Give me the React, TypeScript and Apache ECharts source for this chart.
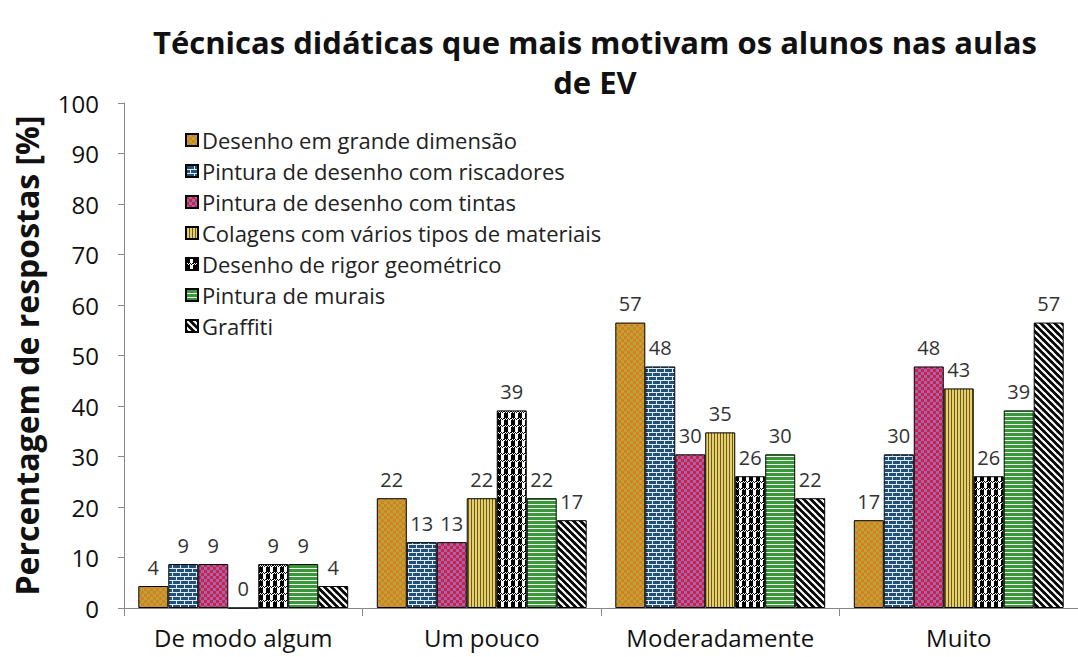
import React, { useEffect, useRef } from "react";
import * as echarts from "echarts";

const categories = ["De modo algum", "Um pouco", "Moderadamente", "Muito"];
const seriesNames = [
  "Desenho em grande dimensão",
  "Pintura de desenho com riscadores",
  "Pintura de desenho com tintas",
  "Colagens com vários tipos de materiais",
  "Desenho de rigor geométrico",
  "Pintura de murais",
  "Graffiti",
];
const desenhoGrande = [4.35, 21.74, 56.52, 17.39];
const pinturaRiscadores = [8.7, 13.04, 47.83, 30.43];
const pinturaTintas = [8.7, 13.04, 30.43, 47.83];
const colagens = [0, 21.74, 34.78, 43.48];
const rigorGeometrico = [8.7, 39.13, 26.09, 26.09];
const pinturaMurais = [8.7, 21.74, 30.43, 39.13];
const graffiti = [4.35, 17.39, 21.74, 56.52];
const yTicks = [0, 10, 20, 30, 40, 50, 60, 70, 80, 90, 100];

const seriesValues = [
  desenhoGrande,
  pinturaRiscadores,
  pinturaTintas,
  colagens,
  rigorGeometrico,
  pinturaMurais,
  graffiti,
];

function makePattern(w: number, h: number, draw: (ctx: CanvasRenderingContext2D) => void) {
  const c = document.createElement("canvas");
  c.width = w;
  c.height = h;
  const ctx = c.getContext("2d")!;
  draw(ctx);
  return { image: c.toDataURL(), repeat: "repeat", imageWidth: w, imageHeight: h } as any;
}

function buildPatterns() {
  const p1 = makePattern(6, 6, (ctx) => {
    ctx.fillStyle = "#A8AB3E";
    ctx.fillRect(0, 0, 6, 6);
    ctx.fillStyle = "#E9781C";
    ctx.fillRect(0, 0, 3, 3);
    ctx.fillRect(3, 3, 3, 3);
  });
  const p2 = makePattern(8, 8, (ctx) => {
    ctx.fillStyle = "#22507C";
    ctx.fillRect(0, 0, 8, 8);
    ctx.fillStyle = "#E4ECF2";
    ctx.fillRect(0, 0, 8, 1);
    ctx.fillRect(0, 4, 8, 1);
    ctx.fillRect(0, 1, 1, 3);
    ctx.fillRect(4, 5, 1, 3);
  });
  const p3 = makePattern(6, 6, (ctx) => {
    ctx.fillStyle = "#8E6FB6";
    ctx.fillRect(0, 0, 6, 6);
    ctx.fillStyle = "#E2163F";
    ctx.fillRect(0, 0, 3, 3);
    ctx.fillRect(3, 3, 3, 3);
  });
  const p4 = makePattern(3, 3, (ctx) => {
    ctx.fillStyle = "#E6D06C";
    ctx.fillRect(0, 0, 3, 3);
    ctx.fillStyle = "#6E5C1C";
    ctx.fillRect(0, 0, 1, 3);
  });
  const p5 = makePattern(7, 7, (ctx) => {
    ctx.fillStyle = "#FFFFFF";
    ctx.fillRect(0, 0, 7, 7);
    ctx.fillStyle = "#000000";
    ctx.fillRect(0, 0, 4, 5);
    ctx.fillRect(0, 5, 1, 1);
    ctx.fillRect(2, 5, 1, 1);
    ctx.fillRect(4, 5, 1, 1);
    ctx.fillRect(6, 5, 1, 1);
    ctx.fillRect(1, 6, 1, 1);
    ctx.fillRect(3, 6, 1, 1);
    ctx.fillRect(5, 6, 1, 1);
  });
  const p6 = makePattern(4, 4, (ctx) => {
    ctx.fillStyle = "#3A983A";
    ctx.fillRect(0, 0, 4, 4);
    ctx.fillStyle = "#F2F8F2";
    ctx.fillRect(0, 0, 4, 1);
  });
  const p7 = makePattern(7, 7, (ctx) => {
    ctx.fillStyle = "#000000";
    ctx.fillRect(0, 0, 7, 7);
    ctx.strokeStyle = "#FFFFFF";
    ctx.lineWidth = 2.2;
    for (const x of [-7, 0, 7]) {
      ctx.beginPath();
      ctx.moveTo(x - 1, -1);
      ctx.lineTo(x + 8, 8);
      ctx.stroke();
    }
  });
  return [p1, p2, p3, p4, p5, p6, p7];
}

const FONT = "'Open Sans', 'Noto Sans', sans-serif";

export default function App() {
  const ref = useRef<HTMLDivElement>(null);
  useEffect(() => {
    document.body.style.margin = "0";
    const chart = echarts.init(ref.current!, null, { renderer: "svg" });
    const patterns = buildPatterns();
    const option: any = {
      animation: false,
      backgroundColor: "#FFFFFF",
      textStyle: { fontFamily: FONT },
      title: {
        text: "Técnicas didáticas que mais motivam os alunos nas aulas\nde EV",
        left: 590,
        textAlign: "center",
        top: 17,
        textStyle: {
          fontFamily: FONT,
          fontSize: 31,
          fontWeight: "bold",
          color: "#111111",
          lineHeight: 40,
        },
      },
      legend: {
        orient: "vertical",
        left: 180,
        top: 123,
        itemWidth: 12,
        itemHeight: 12,
        itemGap: 7,
        icon: "rect",
        data: seriesNames,
        textStyle: { fontFamily: FONT, fontSize: 22, color: "#222222", lineHeight: 24, padding: [0, 0, 0, -1] },
      },
      grid: { left: 124, top: 103, width: 957, height: 505 },
      xAxis: {
        type: "category",
        data: categories,
        axisLine: { show: true, lineStyle: { color: "#888888", width: 1 } },
        axisTick: { show: true, length: 8, lineStyle: { color: "#888888" } },
        axisLabel: { interval: 0, fontFamily: FONT, fontSize: 24, color: "#111111", margin: 17 },
      },
      yAxis: {
        type: "value",
        min: 0,
        max: 100,
        interval: 10,
        name: "Percentagem de respostas [%]",
        nameLocation: "middle",
        nameGap: 82,
        nameTextStyle: { fontFamily: FONT, fontSize: 32, fontWeight: "bold", color: "#111111" },
        axisLine: { show: true, lineStyle: { color: "#888888", width: 1 } },
        axisTick: { show: true, length: 6, lineStyle: { color: "#888888" } },
        splitLine: { show: false },
        axisLabel: {
          fontFamily: FONT,
          fontSize: 24,
          color: "#111111",
          margin: 25,
          formatter: (v: number) => (yTicks.includes(v) ? String(v) : ""),
        },
      },
      series: seriesNames.map((name, i) => ({
        name,
        type: "bar",
        data: seriesValues[i],
        barGap: "0%",
        barCategoryGap: "12%",
        itemStyle: { color: patterns[i], borderColor: "#000000", borderWidth: 1 },
        label: {
          show: true,
          position: "top",
          distance: 9,
          fontFamily: FONT,
          fontSize: 20,
          color: "#333333",
          formatter: (p: any) => String(Math.round(p.value)),
        },
      })),
    };
    chart.setOption(option);
    return () => chart.dispose();
  }, []);
  return <div ref={ref} style={{ width: 1078, height: 657 }} />;
}
